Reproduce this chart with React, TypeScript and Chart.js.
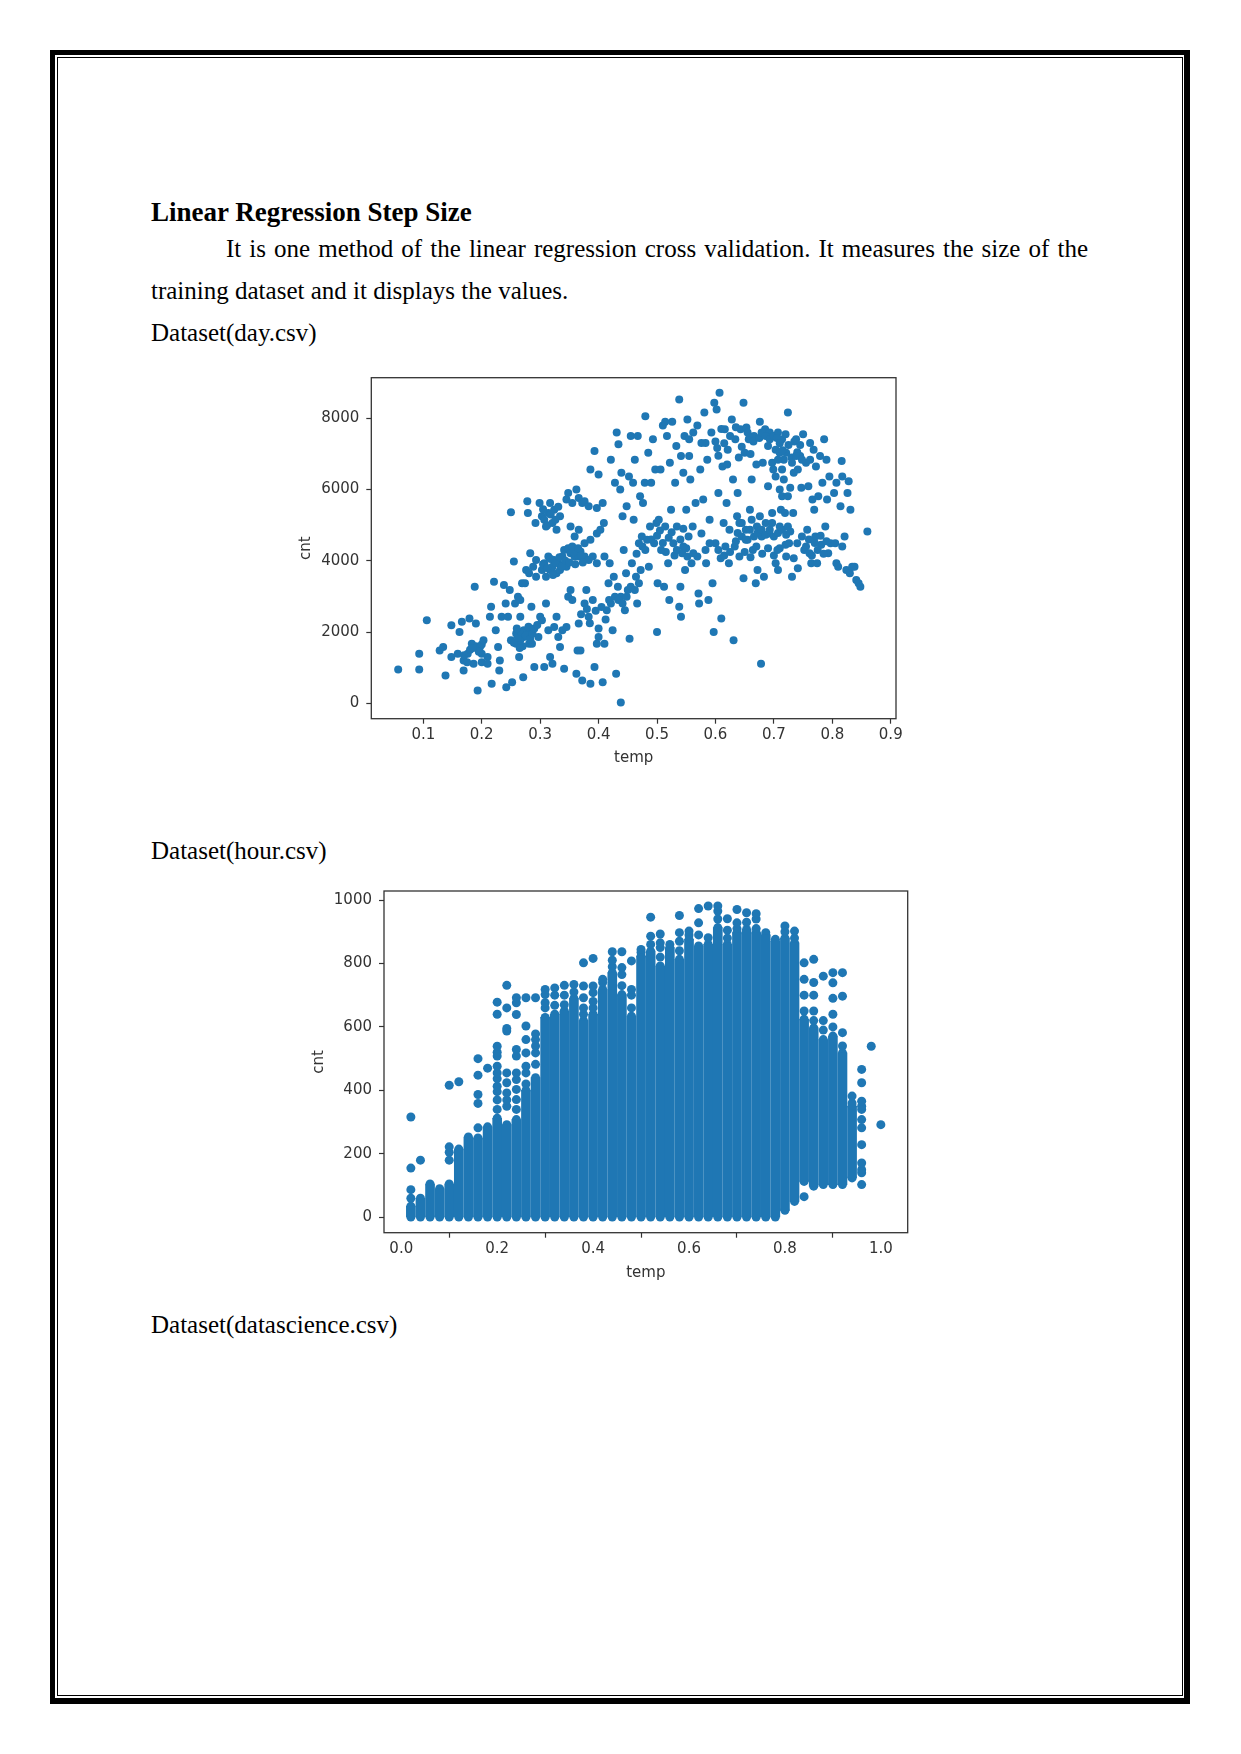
import React, { useEffect, useRef } from 'react';
import { Chart, registerables } from 'chart.js';

Chart.register(...registerables);

// ---------- tick values ----------
const dayXTicks = [0.1, 0.2, 0.3, 0.4, 0.5, 0.6, 0.7, 0.8, 0.9];
const dayXTickLabels = ['0.1', '0.2', '0.3', '0.4', '0.5', '0.6', '0.7', '0.8', '0.9'];
const dayYTicks = [0, 2000, 4000, 6000, 8000];
const dayYTickLabels = ['0', '2000', '4000', '6000', '8000'];

const hourXTicks = [0, 0.2, 0.4, 0.6, 0.8, 1.0];
const hourXTickLabels = ['0.0', '0.2', '0.4', '0.6', '0.8', '1.0'];
const hourYTicks = [0, 200, 400, 600, 800, 1000];
const hourYTickLabels = ['0', '200', '400', '600', '800', '1000'];

// ---------- day.csv : temp vs cnt ----------
const dayPoints: [number, number][] = [
  [0.057, 950], [0.093, 1390], [0.093, 950], [0.106, 2330], [0.128, 1485], [0.134, 1580], [0.138, 780],
  [0.148, 1300], [0.148, 2190], [0.159, 1390], [0.162, 2000], [0.166, 2290], [0.169, 1200], [0.169, 920],
  [0.176, 1390], [0.179, 2380], [0.188, 3270], [0.19, 2240], [0.183, 1670], [0.193, 360], [0.186, 1110],
  [0.197, 1580], [0.2, 1390], [0.18, 1500], [0.19, 1600], [0.2, 1650], [0.195, 1450], [0.185, 1550],
  [0.17, 1350], [0.175, 1150], [0.2, 1150], [0.21, 1300],
  [0.203, 1770], [0.21, 1110], [0.214, 2430], [0.216, 2710], [0.217, 550], [0.221, 3410], [0.224, 2050],
  [0.228, 1580], [0.23, 920], [0.231, 1200], [0.234, 2430], [0.238, 3320], [0.242, 450], [0.245, 2430],
  [0.25, 5360], [0.25, 1770], [0.252, 590], [0.255, 3980], [0.257, 2800], [0.259, 1960], [0.262, 2990],
  [0.264, 1300], [0.266, 2430], [0.269, 3370], [0.271, 730], [0.272, 1860], [0.276, 3740], [0.278, 5670],
  [0.279, 5340], [0.281, 1670], [0.283, 4210], [0.285, 2710], [0.286, 2050], [0.29, 1020], [0.292, 5060],
  [0.293, 3550], [0.297, 1860], [0.299, 5620], [0.3, 2430],
  [0.259, 1670], [0.266, 1770], [0.272, 2050], [0.279, 1960], [0.286, 1670], [0.274, 3370], [0.281, 3650],
  [0.288, 3830], [0.293, 4020], [0.266, 2900], [0.248, 3180], [0.241, 2800],
  [0.255, 1700], [0.262, 1850], [0.268, 2000], [0.27, 1600], [0.275, 1900], [0.28, 2150], [0.283, 1800],
  [0.287, 1950], [0.29, 2100], [0.295, 2200], [0.26, 2100], [0.265, 1550],
  [0.303, 5250], [0.307, 5150], [0.31, 4960], [0.314, 5340], [0.317, 5620], [0.321, 5060], [0.324, 5430],
  [0.328, 4870], [0.331, 5520], [0.334, 5250], [0.305, 5450], [0.312, 5000], [0.318, 5300], [0.326, 5150],
  [0.303, 3740], [0.307, 3930], [0.31, 3550], [0.314, 4120], [0.317, 3740], [0.321, 3830], [0.324, 4020],
  [0.328, 3650], [0.331, 3930], [0.334, 3740], [0.338, 4120], [0.341, 4300], [0.345, 3830], [0.348, 4350],
  [0.352, 4210], [0.355, 4400], [0.359, 4120], [0.362, 4260], [0.366, 4120], [0.369, 4260], [0.376, 4120],
  [0.383, 4020], [0.39, 4120], [0.397, 3930],
  [0.305, 3900], [0.312, 3800], [0.318, 4050], [0.322, 3600], [0.327, 3950], [0.333, 4100], [0.337, 3850],
  [0.343, 4000], [0.35, 3950], [0.357, 4250], [0.36, 3900], [0.365, 4350], [0.37, 4150], [0.373, 3950],
  [0.303, 2330], [0.307, 1020], [0.31, 2800], [0.314, 2050], [0.317, 1300], [0.321, 1110], [0.324, 2140],
  [0.328, 2430], [0.331, 1860], [0.334, 1580], [0.338, 2050], [0.341, 970], [0.345, 2140], [0.348, 2990],
  [0.352, 3180], [0.355, 2900], [0.362, 830], [0.364, 1485], [0.366, 2240], [0.369, 1485], [0.372, 640],
  [0.376, 2800], [0.379, 3180], [0.383, 2430], [0.386, 550], [0.39, 2900], [0.393, 1020], [0.397, 1670],
  [0.4, 1860], [0.407, 590],
  [0.37, 2500], [0.38, 2650], [0.385, 2250], [0.395, 2600], [0.4, 2100], [0.405, 2700], [0.412, 2350],
  [0.418, 2900],
  [0.345, 5720], [0.348, 5900], [0.355, 5620], [0.362, 6000], [0.366, 5760], [0.372, 5620], [0.376, 5670],
  [0.383, 5530], [0.386, 6560], [0.393, 7080], [0.397, 5480], [0.4, 6420],
  [0.352, 4960], [0.359, 4680], [0.366, 4870], [0.376, 4490], [0.386, 4590], [0.397, 4770],
  [0.403, 4870], [0.407, 5620], [0.41, 4120], [0.41, 1670], [0.414, 2610], [0.417, 3370], [0.419, 3930],
  [0.421, 6840], [0.424, 2050], [0.426, 3550], [0.428, 6190], [0.43, 830], [0.431, 7600], [0.433, 3270],
  [0.434, 7270], [0.437, 6000], [0.438, 22], [0.438, 2990], [0.439, 6470], [0.441, 5250], [0.443, 4300],
  [0.445, 2610], [0.447, 3650], [0.448, 5530], [0.45, 3180], [0.452, 6370], [0.453, 1810], [0.455, 7500],
  [0.457, 3930], [0.459, 6190], [0.46, 5150], [0.462, 6840], [0.464, 3550], [0.466, 2800], [0.467, 7500],
  [0.469, 4490], [0.471, 5810], [0.472, 3740], [0.474, 4680], [0.476, 5620], [0.479, 6190], [0.48, 8060],
  [0.483, 4590], [0.485, 7030], [0.486, 3830], [0.488, 4960], [0.49, 6190], [0.493, 7410], [0.495, 4490],
  [0.497, 6560], [0.499, 5060],
  [0.421, 2800], [0.428, 2990], [0.434, 2900], [0.441, 2800], [0.448, 2990], [0.455, 3270], [0.462, 3180],
  [0.469, 3370], [0.409, 5060],
  [0.465, 4200], [0.475, 4400], [0.48, 4300], [0.49, 4600], [0.5, 4700], [0.505, 4850], [0.51, 4500],
  [0.515, 4250], [0.52, 4650], [0.525, 4800], [0.53, 4150], [0.54, 4600], [0.545, 4900], [0.55, 4350],
  [0.5, 2000], [0.501, 3370], [0.503, 5150], [0.506, 6560], [0.507, 4300], [0.51, 7800], [0.512, 3270],
  [0.514, 4960], [0.517, 7500], [0.519, 3930], [0.521, 2900], [0.522, 6750], [0.524, 5430], [0.526, 7900],
  [0.528, 4490], [0.531, 6190], [0.533, 7220], [0.534, 4960], [0.538, 8530], [0.538, 2710], [0.54, 3270],
  [0.541, 2430], [0.543, 4210], [0.545, 6470], [0.547, 7500], [0.548, 3740], [0.55, 5430], [0.552, 7970],
  [0.554, 4680], [0.555, 6940], [0.557, 6280], [0.559, 3930], [0.561, 4960], [0.562, 7600], [0.566, 5620],
  [0.569, 4120], [0.571, 3080], [0.572, 2800], [0.574, 6560], [0.576, 4770], [0.579, 5720], [0.581, 8160],
  [0.583, 7310], [0.584, 3930], [0.586, 6840], [0.588, 2900], [0.59, 5150], [0.593, 7600], [0.595, 3370],
  [0.597, 2000], [0.598, 8440], [0.6, 4490],
  [0.514, 7900], [0.541, 6940], [0.555, 7410], [0.569, 7800], [0.576, 7310], [0.534, 4300], [0.545, 4400],
  [0.552, 4120], [0.562, 4210], [0.583, 4300], [0.59, 4490],
  [0.602, 8250], [0.603, 7170], [0.605, 5900], [0.607, 8720], [0.609, 4070], [0.61, 2380], [0.612, 6650],
  [0.614, 5060], [0.616, 7690], [0.617, 4400], [0.619, 5620], [0.621, 7120], [0.623, 3930], [0.624, 4870],
  [0.628, 7970], [0.63, 6280], [0.631, 1770], [0.633, 4400], [0.634, 7410], [0.637, 5250], [0.638, 5900],
  [0.641, 4120], [0.643, 7690], [0.645, 5060], [0.648, 8440], [0.648, 3510], [0.65, 7030], [0.652, 4870],
  [0.653, 7740], [0.655, 4590], [0.657, 7410], [0.659, 5430], [0.662, 6280], [0.664, 4300], [0.666, 7500],
  [0.669, 3370], [0.671, 4960], [0.672, 3740], [0.676, 7900], [0.678, 1110], [0.679, 4680], [0.681, 6750],
  [0.683, 3550], [0.685, 7690], [0.686, 5060], [0.69, 6090], [0.692, 4770], [0.693, 7600], [0.697, 5340],
  [0.699, 6560],
  [0.6, 7350], [0.605, 6950], [0.61, 7700], [0.615, 7300], [0.62, 6700], [0.625, 7500], [0.635, 7750],
  [0.64, 6900], [0.645, 7200], [0.655, 7600], [0.66, 7000], [0.665, 7350], [0.67, 6700], [0.675, 7450],
  [0.605, 4300], [0.615, 4150], [0.625, 4250], [0.635, 4550], [0.65, 4250], [0.66, 4100], [0.67, 4400],
  [0.68, 4200], [0.69, 4350], [0.7, 4150], [0.71, 4350], [0.72, 4450],
  [0.638, 4780], [0.645, 4680], [0.652, 4590], [0.659, 4870], [0.666, 4680], [0.672, 4780], [0.679, 4870],
  [0.686, 4730], [0.693, 4870], [0.7, 4680], [0.707, 4780], [0.714, 4870], [0.721, 4730], [0.728, 4820],
  [0.641, 5060], [0.662, 5150], [0.676, 5250], [0.697, 5060], [0.71, 4960], [0.724, 4960],
  [0.679, 7600], [0.686, 7500], [0.693, 7410], [0.7, 7500], [0.707, 7600], [0.714, 7410], [0.69, 7220],
  [0.703, 7120], [0.71, 7030], [0.717, 6840], [0.697, 6750], [0.707, 6840], [0.721, 7030], [0.724, 8160],
  [0.714, 6560], [0.703, 6370],
  [0.705, 7450], [0.71, 7300], [0.715, 7100], [0.72, 7550], [0.725, 7250], [0.73, 6900], [0.735, 7350],
  [0.74, 7050], [0.745, 7250],
  [0.703, 3930], [0.706, 4300], [0.707, 3740], [0.71, 6000], [0.712, 5430], [0.714, 5810], [0.717, 6280],
  [0.719, 5340], [0.721, 4120], [0.724, 5810], [0.726, 4490], [0.728, 6050], [0.731, 3550], [0.733, 5340],
  [0.734, 4070], [0.738, 7410], [0.74, 4490], [0.741, 3790], [0.745, 6940], [0.747, 6050], [0.748, 4680],
  [0.75, 7550], [0.752, 4300], [0.755, 6750], [0.757, 4870], [0.759, 6090], [0.761, 4210], [0.762, 7310],
  [0.764, 3930], [0.766, 5720], [0.768, 7120], [0.769, 5430], [0.771, 4680], [0.772, 6650], [0.774, 3930],
  [0.776, 5810], [0.779, 6940], [0.781, 4450], [0.783, 6190], [0.786, 7410], [0.788, 4960], [0.79, 6840],
  [0.791, 5720], [0.793, 4210], [0.795, 6370], [0.797, 4490],
  [0.731, 6750], [0.738, 6940], [0.748, 6840], [0.741, 6560], [0.762, 6840], [0.734, 6470],
  [0.755, 4400], [0.76, 4600], [0.765, 4150], [0.77, 4500], [0.775, 4300], [0.78, 4700], [0.785, 4200],
  [0.79, 4550],
  [0.803, 5900], [0.805, 4490], [0.807, 3930], [0.81, 3830], [0.814, 5530], [0.816, 6800], [0.817, 4400],
  [0.821, 4680], [0.824, 3740], [0.826, 5900], [0.828, 6230], [0.83, 3650], [0.831, 5430], [0.834, 3830],
  [0.838, 3830], [0.841, 3460], [0.845, 3370], [0.848, 3270], [0.86, 4820], [0.807, 6190], [0.817, 6370],
];

// ---------- hour.csv : temp vs cnt ----------
// each temp column: densely filled from hourLow to hourHigh
const hourTemps = [
  0.02, 0.04, 0.06, 0.08, 0.1, 0.12, 0.14, 0.16, 0.18, 0.2, 0.22, 0.24, 0.26, 0.28, 0.3, 0.32,
  0.34, 0.36, 0.38, 0.4, 0.42, 0.44, 0.46, 0.48, 0.5, 0.52, 0.54, 0.56, 0.58, 0.6, 0.62, 0.64,
  0.66, 0.68, 0.7, 0.72, 0.74, 0.76, 0.78, 0.8, 0.82, 0.84, 0.86, 0.88, 0.9, 0.92, 0.94,
];
const hourLow = [
  1, 1, 1, 1, 1, 1, 1, 1, 1, 1, 1, 1, 1, 1, 1, 1,
  1, 1, 1, 1, 1, 1, 1, 1, 1, 1, 1, 1, 1, 1, 1, 1,
  1, 1, 1, 1, 1, 1, 1, 22, 50, 113, 98, 103, 103, 103, 124,
];
const hourHigh = [
  35, 60, 105, 90, 105, 215, 253, 250, 285, 312, 292, 308, 400, 440, 630, 640,
  650, 690, 620, 640, 718, 771, 702, 634, 823, 839, 792, 850, 813, 876, 855, 860,
  913, 860, 897, 907, 897, 890, 870, 880, 865, 624, 597, 560, 571, 518, 350,
];
// isolated dots above the dense columns
const hourOutliers: [number, number][] = [
  [0.02, 60], [0.02, 87], [0.02, 155], [0.02, 316], [0.04, 180],
  [0.1, 180], [0.1, 205], [0.1, 222], [0.1, 416], [0.12, 427],
  [0.16, 282], [0.16, 359], [0.16, 387], [0.16, 448], [0.16, 500], [0.18, 470],
  [0.2, 340], [0.2, 370], [0.2, 396], [0.2, 413], [0.2, 437], [0.2, 455], [0.2, 476], [0.2, 508],
  [0.2, 520], [0.2, 539], [0.2, 640], [0.2, 678],
  [0.22, 350], [0.22, 370], [0.22, 392], [0.22, 424], [0.22, 455], [0.22, 587], [0.22, 595], [0.22, 660], [0.22, 731],
  [0.24, 340], [0.24, 371], [0.24, 403], [0.24, 434], [0.24, 455], [0.24, 508], [0.24, 529], [0.24, 639],
  [0.24, 676], [0.24, 692],
  [0.26, 420], [0.26, 455], [0.26, 476], [0.26, 518], [0.26, 560], [0.26, 603], [0.26, 692],
  [0.28, 482], [0.28, 518], [0.28, 540], [0.28, 560], [0.28, 578], [0.28, 692],
  [0.3, 660], [0.3, 676], [0.3, 702], [0.3, 718], [0.32, 668], [0.32, 700], [0.32, 723],
  [0.34, 670], [0.34, 700], [0.34, 731], [0.36, 710], [0.36, 734],
  [0.38, 640], [0.38, 660], [0.38, 692], [0.38, 729], [0.38, 802],
  [0.4, 660], [0.4, 680], [0.4, 708], [0.4, 729], [0.4, 816], [0.42, 740], [0.42, 750],
  [0.44, 790], [0.44, 810], [0.44, 837], [0.46, 730], [0.46, 765], [0.46, 787], [0.46, 837],
  [0.48, 660], [0.48, 700], [0.48, 718], [0.48, 808], [0.5, 835], [0.5, 844],
  [0.52, 860], [0.52, 886], [0.52, 946], [0.54, 820], [0.54, 850], [0.54, 865], [0.54, 893], [0.56, 860],
  [0.58, 840], [0.58, 870], [0.58, 897], [0.58, 951], [0.6, 890], [0.6, 902],
  [0.62, 890], [0.62, 928], [0.62, 973], [0.64, 881], [0.64, 981], [0.66, 940], [0.66, 965], [0.66, 981],
  [0.68, 880], [0.68, 905], [0.68, 941], [0.7, 910], [0.7, 928], [0.7, 970], [0.72, 930], [0.72, 960],
  [0.74, 910], [0.74, 940], [0.74, 957], [0.76, 897], [0.78, 876], [0.8, 900], [0.8, 918],
  [0.82, 880], [0.82, 902],
  [0.84, 65], [0.84, 650], [0.84, 700], [0.84, 750], [0.84, 802],
  [0.86, 620], [0.86, 650], [0.86, 700], [0.86, 740], [0.86, 813],
  [0.88, 590], [0.88, 620], [0.88, 760],
  [0.9, 600], [0.9, 640], [0.9, 690], [0.9, 739], [0.9, 771],
  [0.92, 540], [0.92, 582], [0.92, 697], [0.92, 771], [0.94, 360], [0.94, 382],
  [0.96, 103], [0.96, 140], [0.96, 150], [0.96, 171], [0.96, 229], [0.96, 282], [0.96, 308],
  [0.96, 340], [0.96, 350], [0.96, 366], [0.96, 424], [0.96, 466],
  [0.98, 539], [1.0, 292],
];

const BLUE = '#1f77b4';
const AXIS_COLOR = '#333333';
const FONT = { family: 'DejaVu Sans', size: 15 };

const spinePlugin = {
  id: 'spines',
  afterDatasetsDraw(chart: any) {
    const { ctx, chartArea } = chart;
    ctx.save();
    ctx.strokeStyle = AXIS_COLOR;
    ctx.lineWidth = 1.3;
    ctx.strokeRect(chartArea.left, chartArea.top, chartArea.right - chartArea.left, chartArea.bottom - chartArea.top);
    ctx.restore();
  },
};

function makeScales(opts: {
  xMin: number; xMax: number; yMin: number; yMax: number;
  xTicks: number[]; xLabels: string[]; yTicks: number[]; yLabels: string[];
  yWidth: number; xHeight: number;
}) {
  const grid = {
    display: true,
    drawOnChartArea: false,
    drawTicks: true,
    tickLength: 5,
    tickColor: AXIS_COLOR,
    tickWidth: 1.2,
  };
  return {
    x: {
      type: 'linear',
      min: opts.xMin,
      max: opts.xMax,
      offset: false,
      grid,
      border: { display: false },
      afterBuildTicks: (axis: any) => { axis.ticks = opts.xTicks.map((v) => ({ value: v })); },
      afterFit: (axis: any) => { axis.height = opts.xHeight; },
      ticks: {
        autoSkip: false,
        maxRotation: 0,
        padding: 2,
        color: AXIS_COLOR,
        font: FONT,
        callback: (_v: any, i: number) => opts.xLabels[i],
      },
      title: { display: true, text: 'temp', color: AXIS_COLOR, font: FONT, padding: { top: 0, bottom: 3 } },
    },
    y: {
      type: 'linear',
      min: opts.yMin,
      max: opts.yMax,
      grid,
      border: { display: false },
      afterBuildTicks: (axis: any) => { axis.ticks = opts.yTicks.map((v) => ({ value: v })); },
      afterFit: (axis: any) => { axis.width = opts.yWidth; },
      ticks: {
        autoSkip: false,
        padding: 7,
        color: AXIS_COLOR,
        font: FONT,
        callback: (_v: any, i: number) => opts.yLabels[i],
      },
      title: { display: true, text: 'cnt', color: AXIS_COLOR, font: FONT, padding: { top: 3.5, bottom: 0 } },
    },
  };
}

function DayChart() {
  const ref = useRef<HTMLCanvasElement | null>(null);
  useEffect(() => {
    if (!ref.current) return;
    const chart = new Chart(ref.current, {
      type: 'scatter',
      data: {
        datasets: [
          {
            data: dayPoints.map(([x, y]) => ({ x, y })),
            backgroundColor: BLUE,
            borderWidth: 0,
            pointRadius: 4,
          },
        ],
      },
      options: {
        responsive: false,
        animation: false,
        events: [],
        layout: { padding: { top: 17.7, right: 14, left: 0, bottom: 0 } },
        plugins: { legend: { display: false }, tooltip: { enabled: false } },
        scales: makeScales({
          xMin: 0.011, xMax: 0.909, yMin: -432, yMax: 9140,
          xTicks: dayXTicks, xLabels: dayXTickLabels, yTicks: dayYTicks, yLabels: dayYTickLabels,
          yWidth: 77.3, xHeight: 51.3,
        }) as any,
      },
      plugins: [spinePlugin],
    } as any);
    return () => chart.destroy();
  }, []);
  return (
    <canvas
      ref={ref}
      width={616}
      height={410}
      style={{ position: 'absolute', left: 294, top: 360, width: 616, height: 410 }}
    />
  );
}

function HourChart() {
  const ref = useRef<HTMLCanvasElement | null>(null);
  useEffect(() => {
    if (!ref.current) return;
    const R = 4.5;
    const chart = new Chart(ref.current, {
      type: 'scatter',
      data: {
        datasets: [
          {
            type: 'bar',
            data: hourTemps.map((t, i) => ({ x: t, y: [hourLow[i], hourHigh[i]] })),
            backgroundColor: BLUE,
            borderWidth: 0,
            borderSkipped: false,
            borderRadius: 0,
            barThickness: R * 2,
            grouped: false,
          },
          {
            type: 'scatter',
            data: [
              ...hourTemps.map((t, i) => ({ x: t, y: hourLow[i] })),
              ...hourTemps.map((t, i) => ({ x: t, y: hourHigh[i] })),
              ...hourOutliers.map(([x, y]) => ({ x, y })),
            ],
            backgroundColor: BLUE,
            borderWidth: 0,
            pointRadius: R,
          },
        ],
      },
      options: {
        responsive: false,
        animation: false,
        events: [],
        layout: { padding: { top: 16, right: 12.3, left: 0, bottom: 0 } },
        plugins: { legend: { display: false }, tooltip: { enabled: false } },
        scales: makeScales({
          xMin: -0.036, xMax: 1.056, yMin: -48.6, yMax: 1028.4,
          xTicks: hourXTicks, xLabels: hourXTickLabels, yTicks: hourYTicks, yLabels: hourYTickLabels,
          yWidth: 77, xHeight: 52.3,
        }) as any,
      },
      plugins: [spinePlugin],
    } as any);
    return () => chart.destroy();
  }, []);
  return (
    <canvas
      ref={ref}
      width={613}
      height={410}
      style={{ position: 'absolute', left: 307, top: 875, width: 613, height: 410 }}
    />
  );
}

const serif = "'Liberation Serif', 'Times New Roman', serif";

function TextLine(props: { left: number; baseline: number; bold?: boolean; size?: number; width?: number; justify?: boolean; children: any }) {
  const { left, baseline, bold, width, justify, children } = props;
  const size = props.size || 25;
  return (
    <div
      style={{
        position: 'absolute',
        left,
        top: baseline - 0.8374 * size,
        width: width,
        fontFamily: serif,
        fontSize: size,
        lineHeight: size + 'px',
        fontWeight: bold ? 'bold' : 'normal',
        color: '#000',
        textAlign: justify ? 'justify' : 'left',
        textAlignLast: justify ? 'justify' : 'auto',
        whiteSpace: justify ? 'normal' : 'nowrap',
      } as any}
    >
      {children}
    </div>
  );
}

export default function App() {
  return (
    <div
      style={{
        position: 'absolute',
        left: 0,
        top: 0,
        width: 1241,
        height: 1754,
        background: '#fff',
        overflow: 'hidden',
      }}
    >
      {/* page borders */}
      <div
        style={{
          position: 'absolute',
          left: 50,
          top: 50,
          width: 1140,
          height: 1654,
          boxSizing: 'border-box',
          borderStyle: 'solid',
          borderColor: '#000',
          borderWidth: '5px 6px 6px 5px',
        }}
      />
      <div
        style={{
          position: 'absolute',
          left: 57,
          top: 57,
          width: 1126,
          height: 1639,
          boxSizing: 'border-box',
          border: '1px solid #000',
        }}
      />

      <TextLine left={151} baseline={221.7} bold size={27}>Linear Regression Step Size</TextLine>
      <TextLine left={226} baseline={256.7} width={862} justify>
        It is one method of the linear regression cross validation. It measures the size of the
      </TextLine>
      <TextLine left={151} baseline={299.3}>training dataset and it displays the values.</TextLine>
      <TextLine left={151} baseline={340.5}>Dataset(day.csv)</TextLine>

      <DayChart />

      <TextLine left={151} baseline={858.5}>Dataset(hour.csv)</TextLine>

      <HourChart />

      <TextLine left={151} baseline={1333}>Dataset(datascience.csv)</TextLine>
    </div>
  );
}
